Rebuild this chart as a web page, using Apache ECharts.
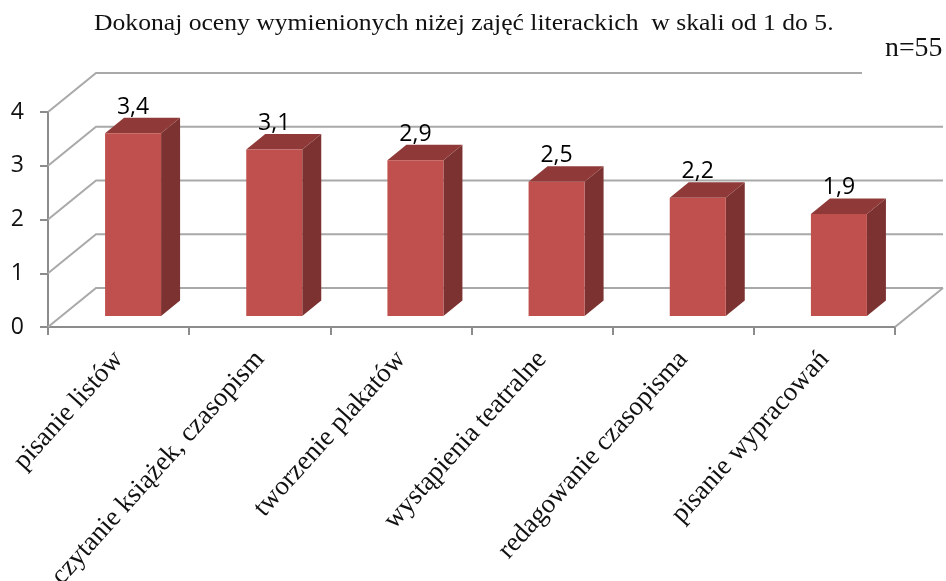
<!DOCTYPE html>
<html>
<head>
<meta charset="utf-8">
<style>
  html, body { margin: 0; padding: 0; background: #fff; }
  #chart { width: 946px; height: 581px; }
</style>
<script src="https://cdn.jsdelivr.net/npm/echarts@6/dist/echarts.min.js"></script>
</head>
<body>
<div id="chart"></div>
<script>
const categories = ['pisanie listów', 'czytanie książek, czasopism', 'tworzenie plakatów', 'wystąpienia teatralne', 'redagowanie czasopisma', 'pisanie wypracowań'];
const values = [3.4, 3.1, 2.9, 2.5, 2.2, 1.9];
const valueLabels = ['3,4', '3,1', '2,9', '2,5', '2,2', '1,9'];
const wallTicks = [0, 1, 2, 3, 4];

const wallDx = 48, wallDy = -39;
const barWidth = 56, barShift = 14.5, baseLift = 11, depthX = 19, depthY = -15.5;
const gridColor = '#a9a9a9';

function renderWall(params, api){
  const v = api.value(0);
  const sys = params.coordSys;
  const y = api.coord([0, v])[1];
  const left = sys.x;
  const right = sys.x + sys.width;
  // top line of the wall stops short, the others run to the floor corner
  const end = v === 4 ? right - 33 : right + wallDx;
  const children = [{
    type: 'polyline',
    shape: {points: [[left, y], [left + wallDx, y + wallDy], [end, y + wallDy]]},
    style: {fill: null, stroke: gridColor, lineWidth: 2}
  }];
  if(v === 0){
    children.push({
      type: 'line',
      shape: {x1: right, y1: y, x2: right + wallDx, y2: y + wallDy},
      style: {stroke: gridColor, lineWidth: 2}
    });
  }
  return {type: 'group', children};
}

function renderBar(params, api){
  const i = api.value(0);
  const top = api.coord([i, api.value(1)]);
  const base = api.coord([i, 0]);
  const x0 = top[0] + barShift - barWidth / 2;
  const x1 = x0 + barWidth;
  const yTop = top[1] - baseLift;
  const yBase = base[1] - baseLift;
  return {
    type: 'group',
    children: [{
      type: 'polygon',
      shape: {points: [[x1, yTop], [x1 + depthX, yTop + depthY], [x1 + depthX, yBase + depthY], [x1, yBase]]},
      style: {fill: '#7b3230'}
    }, {
      type: 'polygon',
      shape: {points: [[x0, yTop], [x0 + depthX, yTop + depthY], [x1 + depthX, yTop + depthY], [x1, yTop]]},
      style: {fill: '#8f3a38'}
    }, {
      type: 'rect',
      shape: {x: x0, y: yTop, width: barWidth, height: yBase - yTop},
      style: {fill: '#c0504d'}
    }, {
      type: 'text',
      style: {
        x: x0 + barWidth / 2,
        y: yTop - 26,
        text: valueLabels[i],
        fill: '#000',
        font: '23px "Open Sans"',
        align: 'center',
        verticalAlign: 'middle'
      }
    }]
  };
}

const chart = echarts.init(document.getElementById('chart'));
chart.setOption({
  animation: false,
  backgroundColor: '#fff',
  grid: {left: 48, right: 51, top: 112, bottom: 254, outerBoundsMode: 'none'},
  graphic: [{
    type: 'text',
    x: 94,
    y: 12,
    scaleX: 1.068,
    style: {text: 'Dokonaj oceny wymienionych niżej zajęć literackich  w skali od 1 do 5.', fill: '#111', font: '24px "Liberation Serif"'}
  }, {
    type: 'text',
    x: 885,
    y: 35,
    scaleX: 1.03,
    style: {text: 'n=55', fill: '#111', font: '27px "Liberation Serif"'}
  }],
  xAxis: {
    type: 'category',
    data: categories,
    axisLine: {lineStyle: {color: '#8c8c8c', width: 2}},
    axisTick: {show: true, length: 8, lineStyle: {color: '#8c8c8c', width: 2}},
    axisLabel: {
      interval: 0,
      rotate: 48,
      margin: 28,
      color: '#111',
      fontFamily: 'Liberation Serif',
      fontSize: 27,
      hideOverlap: false
    }
  },
  yAxis: {
    type: 'value',
    min: 0,
    max: 4,
    interval: 1,
    splitLine: {show: false},
    axisLine: {show: true, lineStyle: {color: '#8c8c8c', width: 2}},
    axisTick: {show: true, length: 8, lineStyle: {color: '#8c8c8c', width: 2}},
    axisLabel: {margin: 24, color: '#111', fontFamily: 'Open Sans', fontSize: 23}
  },
  series: [{
    type: 'custom',
    name: 'wall',
    silent: true,
    renderItem: renderWall,
    encode: {y: 0},
    data: wallTicks.map((v) => [v]),
    z: 1
  }, {
    type: 'custom',
    name: 'oceny',
    renderItem: renderBar,
    encode: {x: 0, y: 1},
    data: values.map((v, i) => [i, v]),
    z: 2
  }]
});
</script>
</body>
</html>
